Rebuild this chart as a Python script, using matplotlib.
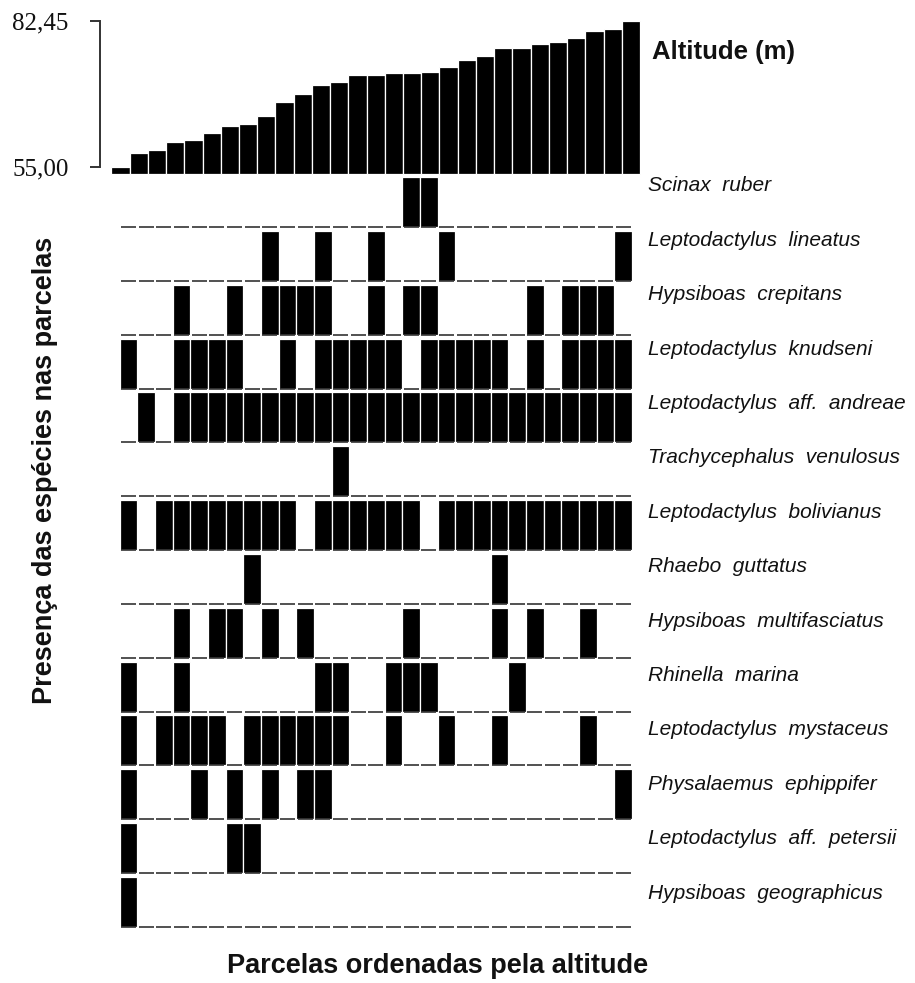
import matplotlib
matplotlib.use("Agg")
import matplotlib.pyplot as plt
import numpy as np

plt.rcParams["font.family"] = ["Liberation Sans", "DejaVu Sans"]

# altitude (m) of each plot, plots already sorted by altitude
altitude = [55.00, 57.5, 58.1, 59.7, 60.1, 61.4, 62.6, 63.0, 64.5, 67.1,
            68.7, 70.3, 71.0, 72.2, 72.2, 72.6, 72.6, 72.9, 73.8, 75.1,
            75.8, 77.3, 77.3, 78.1, 78.4, 79.3, 80.6, 80.9, 82.45]
alt_ticks = [55.00, 82.45]
alt_ticklabels = ["55,00", "82,45"]

species = [
    "Scinax  ruber",
    "Leptodactylus  lineatus",
    "Hypsiboas  crepitans",
    "Leptodactylus  knudseni",
    "Leptodactylus  aff.  andreae",
    "Trachycephalus  venulosus",
    "Leptodactylus  bolivianus",
    "Rhaebo  guttatus",
    "Hypsiboas  multifasciatus",
    "Rhinella  marina",
    "Leptodactylus  mystaceus",
    "Physalaemus  ephippifer",
    "Leptodactylus  aff.  petersii",
    "Hypsiboas  geographicus",
]

# plots (0-based, in altitude order) where each species was recorded
presence = [
    [16, 17],
    [8, 11, 14, 18, 28],
    [3, 6, 8, 9, 10, 11, 14, 16, 17, 23, 25, 26, 27],
    [0, 3, 4, 5, 6, 9, 11, 12, 13, 14, 15, 17, 18, 19, 20, 21, 23, 25, 26, 27, 28],
    [1, 3, 4, 5, 6, 7, 8, 9, 10, 11, 12, 13, 14, 15, 16, 17, 18, 19, 20, 21,
     22, 23, 24, 25, 26, 27, 28],
    [12],
    [0, 2, 3, 4, 5, 6, 7, 8, 9, 11, 12, 13, 14, 15, 16, 18, 19, 20, 21, 22,
     23, 24, 25, 26, 27, 28],
    [7, 21],
    [3, 5, 6, 8, 10, 16, 21, 23, 26],
    [0, 3, 11, 12, 15, 16, 17, 22],
    [0, 2, 3, 4, 5, 7, 8, 9, 10, 11, 12, 15, 18, 21, 26],
    [0, 4, 6, 8, 10, 11, 28],
    [0, 6, 7],
    [0],
]

W, H = 915, 983
fig = plt.figure(figsize=(W / 100, H / 100), dpi=100)


def px_axes(x0, y0, x1, y1):
    # axes placed by pixel box (top-left origin)
    return fig.add_axes([x0 / W, 1 - y1 / H, (x1 - x0) / W, (y1 - y0) / H])


n = len(altitude)
plots = np.arange(n)
ink = "#111111"
grey = "#333333"

# --- altitude panel ---
ax_alt = px_axes(111.4, 21, 640, 174)
base = 53.6
ax_alt.bar(plots, np.array(altitude) - base, bottom=base, width=1.0,
           color="black", edgecolor="white", linewidth=0.9, clip_on=False)
ax_alt.set_xlim(-0.5, n - 0.5)
ax_alt.set_ylim(base, max(altitude))
for s in ("top", "right", "bottom"):
    ax_alt.spines[s].set_visible(False)
ax_alt.spines["left"].set_position(("outward", 8.2))
ax_alt.spines["left"].set_bounds(alt_ticks[0], alt_ticks[-1])
ax_alt.spines["left"].set_color(grey)
ax_alt.spines["left"].set_linewidth(1.4)
ax_alt.set_xticks([])
ax_alt.set_yticks(alt_ticks)
ax_alt.set_yticklabels(alt_ticklabels, family="Liberation Serif", fontsize=18,
                       color=ink)
ax_alt.tick_params(axis="y", length=7.5, width=1.4, color=grey, pad=15)
ax_alt.text(1.0227, 0.80, "Altitude (m)", transform=ax_alt.transAxes,
            fontsize=18.5, fontweight="bold", color=ink, va="center", ha="left")

# --- presence / absence rows ---
step = 1.077          # row pitch, in bar heights
label_step = 1.088    # labels are spaced a touch wider than the rows
n_sp = len(species)
ax_sp = px_axes(119.6, 177, 632.1, 927)
top_label = (n_sp - 1) * step + 0.82
for i, (name, where) in enumerate(zip(species, presence)):
    y0 = (n_sp - 1 - i) * step
    ax_sp.hlines(np.full(n, y0), plots - 0.42, plots + 0.42, color=grey,
                 linewidth=1.2, clip_on=False)
    ax_sp.bar(where, 1.0, bottom=y0, width=1.0, color="black",
              edgecolor="white", linewidth=0.9)
    ax_sp.text(29.4, top_label - i * label_step, name, style="italic",
               fontsize=15, color=ink, va="center", ha="left")
ax_sp.set_xlim(-0.5, n - 0.5)
ax_sp.set_ylim(0, (n_sp - 1) * step + 1)
ax_sp.axis("off")

fig.text(45 / W, 1 - 470 / H, "Presença das espécies nas parcelas",
         rotation=90, fontsize=19.5, fontweight="bold", color=ink,
         ha="center", va="center")
fig.text(438 / W, 1 - 966 / H, "Parcelas ordenadas pela altitude",
         fontsize=19.5, fontweight="bold", color=ink, ha="center", va="center")

fig.savefig("out.png", dpi=100)
